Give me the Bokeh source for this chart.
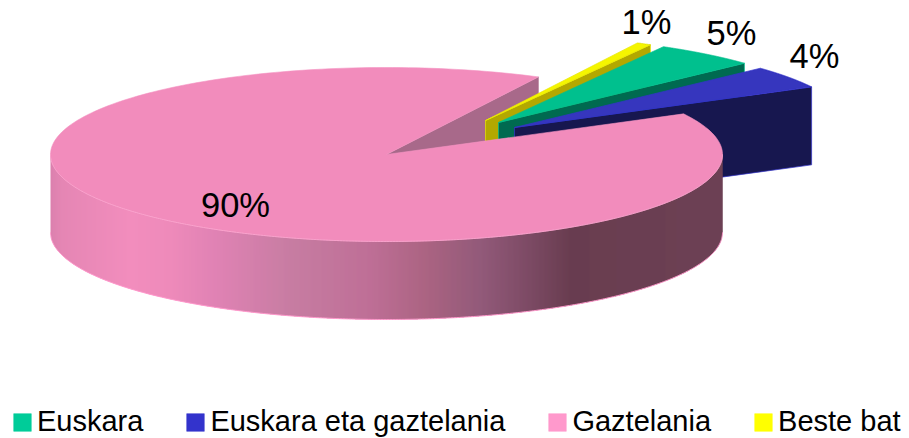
import numpy as np
from bokeh.plotting import figure
from bokeh.models import Range1d, Legend, LegendItem
from bokeh.core.properties import value
from bokeh.embed import file_html
from bokeh.resources import INLINE

# data (percentages, clockwise from the first slice)
categories = ["Euskara", "Euskara eta gaztelania", "Gaztelania", "Beste bat"]
shares = [4.9, 4.2, 90.2, 0.7]
legend_colors = ["#00CC99", "#3333CC", "#FF99CC", "#FFFF00"]
top_colors = ["#00C08E", "#3636BE", "#F28CBC", "#F5F500"]
cut_colors = ["#006A50", "#17174F", "#A8698A", "#B3A800"]
edge_colors = ["#00C08E", "#3333CC", "#F594C2", "#E8E800"]

# pie geometry (screen pixels)
CX, CY, RX, RY, DEPTH = 386.0, 154.0, 336.0, 87.0, 78.0
START = 60.6
offsets = [(112, -32), (128, -27), (0, 0), (99, -34)]
label_pos = [(731, 32), (814, 55), (235, 204), (646, 21)]
side_stops = [(50, "#DB80AE"), (62, "#E586B4"), (130, "#F28DBD"), (170, "#EE8ABA"),
              (215, "#E082B4"), (290, "#C77DA2"), (370, "#BE6F96"), (425, "#AB6482"),
              (480, "#925A7A"), (530, "#7C4A64"), (570, "#693D50"), (722, "#6D4155")]


def rgb(h):
    return np.array([int(h[i:i + 2], 16) for i in (1, 3, 5)], float)


def side_color(x):
    xs = [s[0] for s in side_stops]
    c = [np.interp(x, xs, [rgb(s[1])[k] for s in side_stops]) for k in range(3)]
    return "#%02x%02x%02x" % tuple(int(round(v)) for v in c)


def ell(t, ox=0.0, oy=0.0):
    r = np.radians(t)
    return CX + ox + RX * np.cos(r), CY + oy - RY * np.sin(r)


def front_y(x):
    x = np.clip(x, CX - RX, CX + RX)
    return CY + RY * np.sqrt(np.maximum(0.0, 1 - ((x - CX) / RX) ** 2))


p = figure(width=909, height=438, output_backend="svg", toolbar_location=None,
           x_range=Range1d(0, 909), y_range=Range1d(438, 0), min_border=0,
           outline_line_color=None, background_fill_color="white")
p.axis.visible = False
p.grid.visible = False

# slice angle spans
spans = []
a = START
for s in shares:
    b = a - s * 3.6
    spans.append((a, b))
    a = b

PINK = categories.index("Gaztelania")
exploded = [i for i in range(len(shares)) if i != PINK]
back_to_front = sorted(exploded, key=lambda i: -((spans[i][0] + spans[i][1]) / 2 % 360))


def top_shape(i):
    a, b = spans[i]
    ox, oy = offsets[i]
    t = np.linspace(a, b, 240)
    x, y = ell(t, ox, oy)
    return [CX + ox, *x], [CY + oy, *y]


def cut_shape(x0, y0, x1, y1):
    return [x0, x1, x1, x0], [y0, y1, y1 + DEPTH, y0 + DEPTH]


# cut face of the big slice (the wall seen through its gap)
ex, ey = ell(spans[PINK][1])
xs, ys = cut_shape(CX, CY, ex, ey)
p.patch(xs, ys, fill_color=cut_colors[PINK], line_color=cut_colors[PINK], line_width=0.5)

# exploded slices, back to front
for i in back_to_front:
    ox, oy = offsets[i]
    ex, ey = ell(spans[i][1], ox, oy)
    xs, ys = cut_shape(CX + ox, CY + oy, ex, ey)
    p.patch(xs, ys, fill_color=cut_colors[i], line_color=edge_colors[i], line_width=0.7)
    xs, ys = top_shape(i)
    p.patch(xs, ys, fill_color=top_colors[i], line_color=edge_colors[i], line_width=0.7)

# big slice: graded side wall, painted left to right with overlapping columns
cols = np.arange(CX - RX, CX + RX, 1.0)
strip_x, strip_y, strip_c = [], [], []
for x0 in cols:
    x1 = min(x0 + 2.0, CX + RX)
    sx = np.linspace(x0, x1, 3)
    strip_x.append(list(sx) + list(sx[::-1]))
    strip_y.append(list(front_y(sx) - 2) + list(front_y(sx[::-1]) + DEPTH))
    strip_c.append(side_color(x0 + 0.5))
p.patches(strip_x, strip_y, fill_color=strip_c, line_color=None)
tt = np.linspace(180, 360, 361)
bx, by = ell(tt)
p.line(bx, by + DEPTH, line_color="#FF99CC", line_width=1)

xs, ys = top_shape(PINK)
p.patch(xs, ys, fill_color=top_colors[PINK], line_color=edge_colors[PINK], line_width=0.6)
p.line(bx, by, line_color="#FBA8D0", line_width=0.8)

# percentage labels
p.text([q[0] for q in label_pos], [q[1] for q in label_pos],
       text=[f"{round(s)}%" for s in shares], text_font=value("Liberation Sans"),
       text_font_size="34.5px", text_color="black", text_align="center", text_baseline="middle")

# legend (swatches: quads with no drawn extent)
nan = float("nan")
items = []
for c, name in zip(legend_colors, categories):
    r = p.quad(left=[nan], right=[nan], top=[nan], bottom=[nan],
               fill_color=c, line_color=c, line_width=0.5)
    items.append(LegendItem(label=name, renderers=[r]))
leg = Legend(items=items, orientation="horizontal", location=(11, 0), padding=0, margin=0,
             spacing=41, label_standoff=4, glyph_width=22, glyph_height=22, label_height=22,
             label_text_font="Liberation Sans", label_text_font_size="29px",
             label_text_color="black", background_fill_alpha=0, border_line_color=None)
p.add_layout(leg, "center")

open("out.html", "w").write(file_html(p, INLINE))
